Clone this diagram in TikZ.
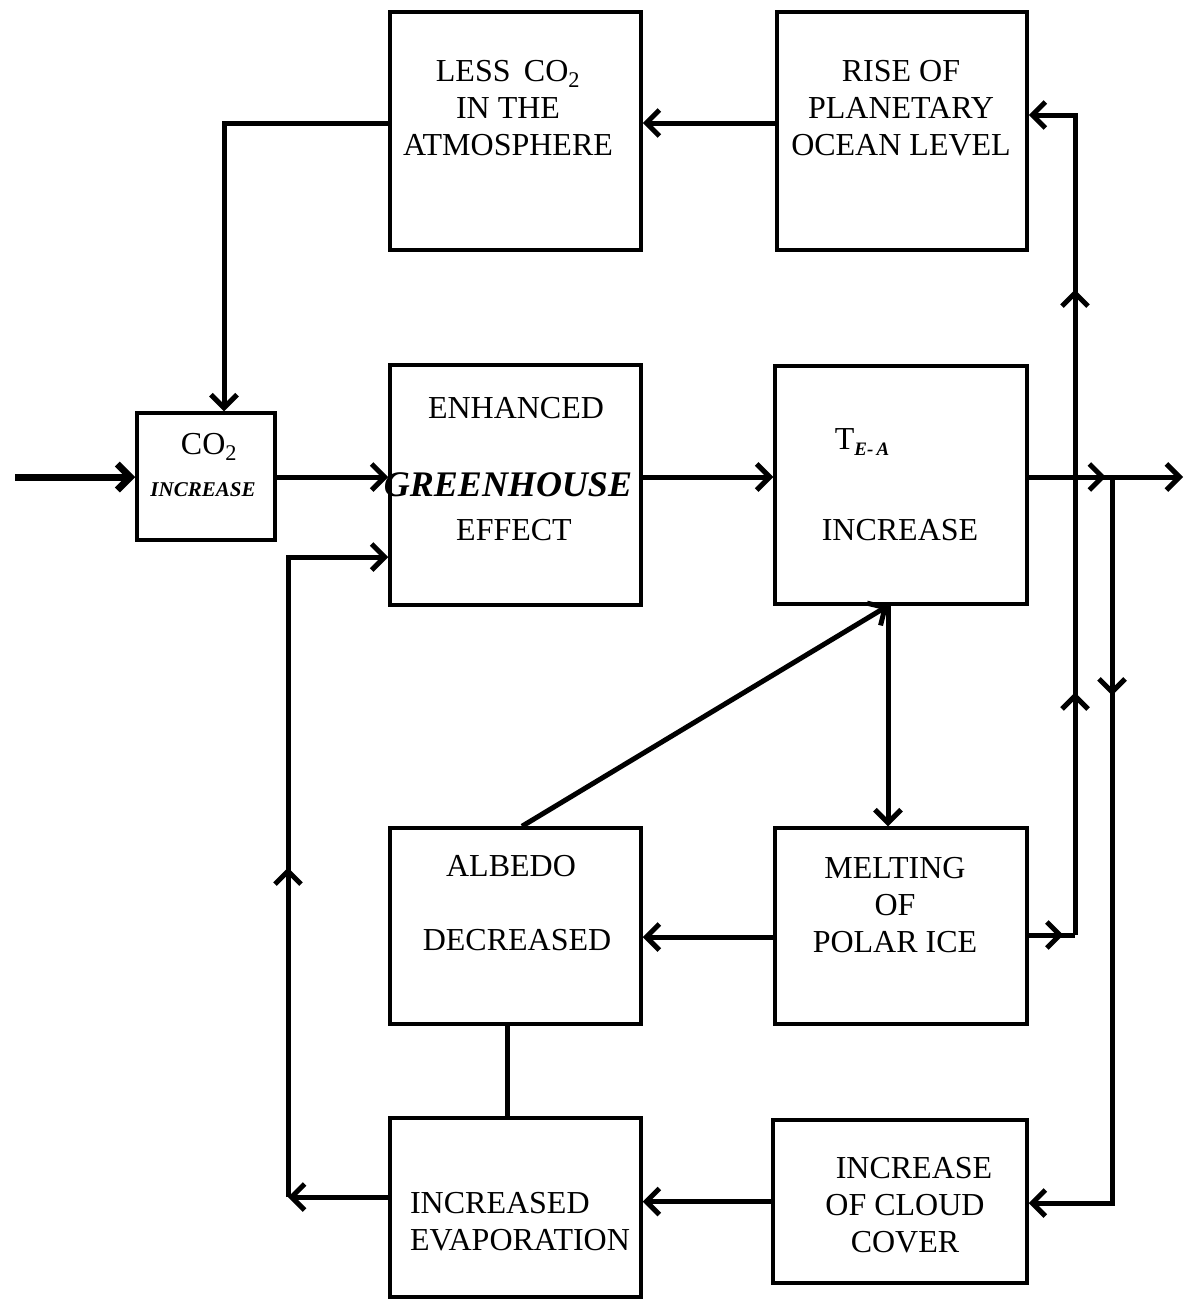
\documentclass[tikz,border=0pt]{standalone}
\usepackage{fontspec}
\setmainfont{Liberation Serif}
\usetikzlibrary{arrows.meta,decorations.markings}
\tikzset{
  blk/.style={draw, line width=3.5pt, rectangle, inner sep=0pt},
  txt/.style={font=\fontsize{32}{37}\selectfont, align=center, inner sep=0pt},
  conn/.style={line width=5pt, line cap=butt, line join=miter},
  arr/.style={conn, -{Straight Barb[length=13pt,width=26pt]}},
  midarrow/.style={postaction={decorate}, decoration={markings,
     mark=at position #1 with {\arrow{Straight Barb[length=13pt,width=26pt]}}}},
  twoarrows/.style 2 args={postaction={decorate}, decoration={markings,
     mark=at position #1 with {\arrow{Straight Barb[length=13pt,width=26pt]}},
     mark=at position #2 with {\arrow{Straight Barb[length=13pt,width=26pt]}}}}
}
\begin{document}
\begin{tikzpicture}[x=1pt,y=-1pt]
\useasboundingbox (0,0) rectangle (1184,1299);
\fill[white] (0,0) rectangle (1184,1299);

% boxes
\node[blk, minimum width=138pt, minimum height=127pt] (co2)  at (206,476.5) {};
\node[blk, minimum width=251pt, minimum height=238pt] (less) at (515.5,131) {};
\node[blk, minimum width=250pt, minimum height=238pt] (rise) at (902,131) {};
\node[blk, minimum width=251pt, minimum height=240pt] (enh)  at (515.5,485) {};
\node[blk, minimum width=252pt, minimum height=238pt] (T)    at (901,485) {};
\node[blk, minimum width=251pt, minimum height=196pt] (alb)  at (515.5,926) {};
\node[blk, minimum width=252pt, minimum height=196pt] (melt) at (901,926) {};
\node[blk, minimum width=251pt, minimum height=179pt] (evap) at (515.5,1207.5) {};
\node[blk, minimum width=254pt, minimum height=163pt] (cloud) at (900,1201.5) {};

% texts
\node[txt] (co2a) at (209,447) {CO\textsubscript{2}};
\node[txt, font=\fontsize{21}{24}\selectfont\bfseries\itshape] (co2b) at (203,490) {INCREASE};
\node[txt] (lesst) at (508,108) {LESS\, CO\textsubscript{2}\\IN THE\\ATMOSPHERE};
\node[txt] (riset) at (901,108) {RISE OF\\PLANETARY\\OCEAN LEVEL};
\node[txt] (enha) at (516,408) {ENHANCED};
\node[txt, font=\fontsize{36}{40}\selectfont\bfseries\itshape] (enhb) at (508,485) {GREENHOUSE};
\node[txt] (enhc) at (514,530) {EFFECT};
\node[txt] (Ta) at (862,442) {T\raisebox{-0.45ex}{\fontsize{19}{20}\selectfont\bfseries\itshape E-\,A}};
\node[txt] (Tb) at (900,530) {INCREASE};
\node[txt] (alba) at (511,866) {ALBEDO};
\node[txt] (albb) at (517,940) {DECREASED};
\node[txt] (meltt) at (895,905) {MELTING\\OF\\POLAR ICE};
\node[txt, align=left] (evapt) at (520,1222) {INCREASED\\EVAPORATION};
\node[txt] (cloudt) at (905,1205) {\hspace*{18pt}INCREASE\\OF CLOUD\\COVER};

% helper coordinates
\coordinate (in) at (15,477);
\coordinate (out) at (1183,477);
\coordinate (u1) at (224,123);
\coordinate (r1) at (1075,935);
\coordinate (r2) at (1075,115);
\coordinate (b1) at (1112,477);
\coordinate (b2) at (1112,1203);
\coordinate (l1) at (288,1197);
\coordinate (l2) at (288,557);
\coordinate (tx) at (888,0);
\coordinate (ax) at (522,0);
\coordinate (my) at (0,937);
\coordinate (ex) at (507,0);

% connectors
\draw[arr, line width=7pt] (in) -- (co2.west |- in);
\draw[arr] (co2.east |- in) -- (enh.west |- in);
\draw[arr] (enh.east |- in) -- (T.west |- in);
\draw[arr, midarrow=0.5] (T.east |- in) -- (out);
\draw[arr] (less.west |- u1) -- (u1) -- (co2.north -| u1);
\draw[arr] (rise.west |- u1) -- (less.east |- u1);
\draw[conn, midarrow=0.75] (melt.east |- r1) -- (r1);
\draw[arr, twoarrows={0.28}{0.745}] (r1) -- (r2) -- (rise.east |- r2);
\draw[arr, midarrow=0.27] (b1) -- (b2) -- (cloud.east |- b2);
\draw[arr] (T.south -| tx) -- (melt.north -| tx);
\draw[arr] (alb.north -| ax) -- (T.south -| tx);
\draw[arr] (melt.west |- my) -- (alb.east |- my);
\draw[conn] (alb.south -| ex) -- (evap.north -| ex);
\draw[arr] (cloud.west) -- (evap.east |- cloud.west);
\draw[arr] (evap.west |- l1) -- (l1);
\draw[arr, midarrow=0.445] (l1) -- (l2) -- (enh.west |- l2);
\end{tikzpicture}
\end{document}
